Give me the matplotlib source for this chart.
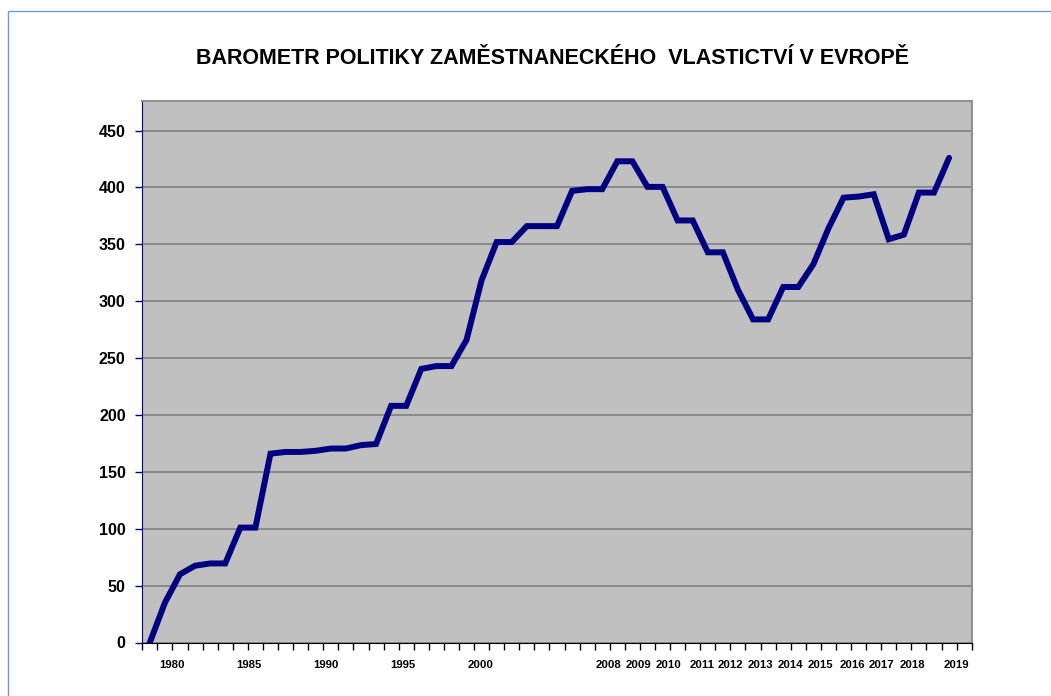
import matplotlib.pyplot as plt
from matplotlib.patches import Rectangle
import numpy as np

# barometer values, one per half-year period
values = [0, 35, 60, 67.5, 69.5, 69.5, 101, 101, 166, 167.5,
          167.5, 168.5, 170.5, 170.5, 173.5, 174.5, 208, 208, 240.5, 243,
          243, 266, 318.5, 352, 352, 366, 366, 366, 397, 398.5,
          398.5, 423, 423, 400.5, 400.5, 371, 371, 343, 343, 310,
          284, 284, 312.5, 312.5, 332.5, 364, 391, 392, 394, 354.5,
          358.5, 395.5, 395.5, 426]
n_categories = 55

year_labels = ["1980", "1985", "1990", "1995", "2000", "2008", "2009", "2010",
               "2011", "2012", "2013", "2014", "2015", "2016", "2017", "2018", "2019"]
# where each label sits along the category axis
label_pos = [2.0, 7.1, 12.2, 17.3, 22.4, 30.9, 32.9, 34.9,
             37.1, 39.0, 41.0, 43.0, 45.0, 47.1, 49.0, 51.1, 54.0]

plt.rcParams["font.family"] = ["Liberation Sans", "DejaVu Sans"]

fig = plt.figure(figsize=(10.51, 6.96), dpi=100)
fig.patches.append(Rectangle((8 / 1051, -0.1), 1.2, (696 - 11) / 696 + 0.1,
                             transform=fig.transFigure, fill=False,
                             edgecolor="#6f9bd4", linewidth=1.0))

ax = fig.add_axes([142.3 / 1051, 53.5 / 696, 829.4 / 1051, 541.5 / 696])
ax.set_facecolor("#c0c0c0")

x = np.arange(len(values)) + 0.5
ax.plot(x, values, color="#000080", linewidth=4.3, solid_joinstyle="miter",
        solid_capstyle="round", zorder=3)

ax.set_xlim(0, n_categories)
ax.set_ylim(0, 476)

ax.set_yticks(range(0, 451, 50))
ax.yaxis.grid(True, color="#808080", linewidth=1.2)
ax.set_axisbelow(True)
ax.tick_params(axis="y", direction="out", length=5, width=1, color="#000080",
               labelsize=11.5, pad=7)
for t in ax.get_yticklabels():
    t.set_fontweight("bold")

# tick marks on category boundaries, year labels as separate minor ticks
ax.xaxis.remove_overlapping_locs = False
ax.set_xticks(range(0, n_categories + 1))
ax.set_xticklabels([])
ax.tick_params(axis="x", which="major", direction="out", length=5, width=1, color="black")
ax.set_xticks(label_pos, minor=True)
ax.set_xticklabels(year_labels, minor=True, fontsize=8.2, fontweight="bold")
ax.tick_params(axis="x", which="minor", length=0, pad=12.5)

ax.spines["left"].set_color("#000080")
ax.spines["bottom"].set_color("black")
ax.spines["top"].set_color("#909090")
ax.spines["right"].set_color("#909090")
ax.spines["top"].set_linewidth(1.5)
ax.spines["right"].set_linewidth(1.5)

fig.text(552 / 1051, 1 - 58 / 696, "BAROMETR POLITIKY ZAMĚSTNANECKÉHO  VLASTICTVÍ V EVROPĚ",
         ha="center", va="center", fontsize=15.5, fontweight="bold")

fig.savefig("out.png", dpi=100)
